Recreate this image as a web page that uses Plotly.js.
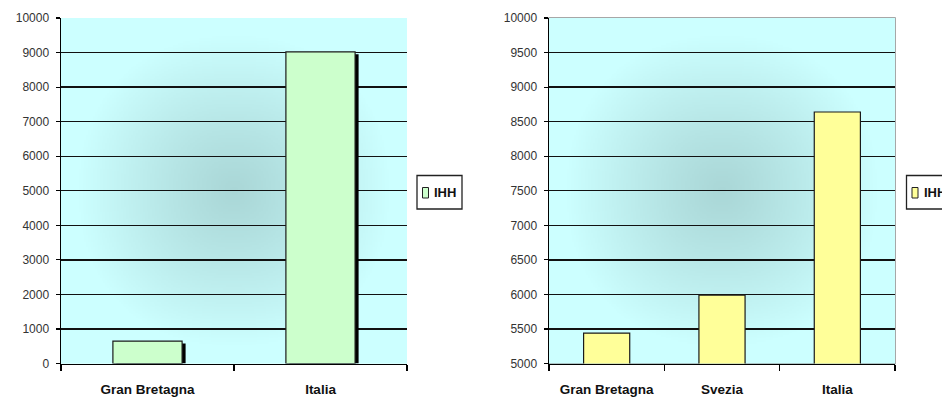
<!DOCTYPE html>
<html>
<head>
<meta charset="utf-8">
<script src="https://cdn.plot.ly/plotly-3.0.1.min.js"></script>
<style>
  html, body { margin: 0; padding: 0; background: #ffffff; }
  #chart { width: 942px; height: 403px; }
</style>
</head>
<body>
<div id="chart"></div>
<script>
// IHH index by country, two panels
const categoriesLeft = ['Gran Bretagna', 'Italia'];
const ihhLeft = [650, 9020];

const categoriesRight = ['Gran Bretagna', 'Svezia', 'Italia'];
const ihhRight = [5440, 5990, 8640];

const seriesName = 'IHH';
const rangeLeft = [0, 10000];
const rangeRight = [5000, 10000];

const W = 942, H = 403;
const FONT = 'Liberation Sans, Arial, sans-serif';
const greenFill = '#CCFFCC';
const yellowFill = '#FFFF99';

// Panel placement (paper fractions)
const domLeftX = [61 / W, 407 / W];
const domRightX = [549 / W, 895 / W];
const domY = [1 - 363.5 / H, 1 - 18 / H];

// Light cyan panel fill, darker toward the middle
function panelShading() {
  const n = 200;
  const c = document.createElement('canvas');
  c.width = n; c.height = n;
  const ctx = c.getContext('2d');
  const img = ctx.createImageData(n, n);
  const inner = [170, 215, 215], outer = [204, 255, 255];
  for (let j = 0; j < n; j++) {
    for (let i = 0; i < n; i++) {
      const dx = Math.abs((i + 0.5) / n * 2 - 1);
      const dy = Math.abs((j + 0.5) / n * 2 - 1);
      const d = Math.pow(Math.pow(dx, 2.2) + Math.pow(dy, 2.2), 1 / 2.2);
      let t = Math.min(1, d / 0.9);
      t = Math.pow(t, 1.15);
      const k = (j * n + i) * 4;
      for (let ch = 0; ch < 3; ch++) img.data[k + ch] = Math.round(inner[ch] + (outer[ch] - inner[ch]) * t);
      img.data[k + 3] = 255;
    }
  }
  ctx.putImageData(img, 0, 0);
  return c.toDataURL('image/png');
}
const shading = panelShading();

// Shadow offsets for the left panel bars, in pixels converted to axis units
const barWidth = 0.4;
const slotPxLeft = (domLeftX[1] - domLeftX[0]) * W / categoriesLeft.length;
const yUnitsPerPx = (rangeLeft[1] - rangeLeft[0]) / ((domY[1] - domY[0]) * H);
const shadowDx = 3.5 / slotPxLeft;
const shadowDy = 2.5 * yUnitsPerPx;

const barLine = { color: '#1a1a1a', width: 1.2 };

const traces = [
  {
    type: 'bar', x: categoriesLeft, y: ihhLeft.map(v => v - shadowDy),
    xaxis: 'x', yaxis: 'y', width: barWidth, offset: -barWidth / 2 + shadowDx,
    marker: { color: '#000000', line: { width: 0 } },
    showlegend: false, hoverinfo: 'skip'
  },
  {
    type: 'bar', name: seriesName, x: categoriesLeft, y: ihhLeft,
    xaxis: 'x', yaxis: 'y', width: barWidth, offset: -barWidth / 2,
    marker: { color: greenFill, line: barLine }, showlegend: false
  },
  {
    type: 'bar', name: seriesName, x: categoriesRight, y: ihhRight,
    xaxis: 'x2', yaxis: 'y2', width: barWidth, offset: -barWidth / 2,
    marker: { color: yellowFill, line: barLine }, showlegend: false
  }
];

const xCommon = {
  type: 'category', showline: true, linecolor: '#000000', linewidth: 1.5,
  ticks: 'outside', tickson: 'boundaries', ticklen: 6, tickwidth: 1.5, tickcolor: '#000000',
  showgrid: false, zeroline: false, fixedrange: true,
  tickfont: { family: FONT, size: 13.5, weight: 700, color: '#111111' },
  ticklabelstandoff: 13
};
const yCommon = {
  showline: true, linecolor: '#000000', linewidth: 1.5,
  ticks: 'outside', ticklen: 4, tickwidth: 1.2, tickcolor: '#000000',
  showgrid: true, gridcolor: '#111111', gridwidth: 1.3, zeroline: false, fixedrange: true,
  tickfont: { family: FONT, size: 12, color: '#333333' },
  tickformat: 'd', ticklabelstandoff: 4
};

const legendBox = (x0, color) => ([
  { type: 'rect', xref: 'paper', yref: 'paper', x0: x0 / W, x1: (x0 + 45) / W,
    y0: 1 - 209 / H, y1: 1 - 175.5 / H, line: { color: '#222222', width: 1.3 }, fillcolor: '#ffffff' },
  { type: 'rect', xref: 'paper', yref: 'paper', x0: (x0 + 5.5) / W, x1: (x0 + 11.5) / W,
    y0: 1 - 198 / H, y1: 1 - 187.5 / H, line: { color: '#222222', width: 1 }, fillcolor: color }
]);

const layout = {
  width: W, height: H,
  margin: { l: 0, r: 0, t: 0, b: 0, autoexpand: false },
  paper_bgcolor: '#ffffff', plot_bgcolor: '#CCFFFF',
  barmode: 'overlay', showlegend: false,
  xaxis: Object.assign({}, xCommon, { domain: domLeftX, anchor: 'y' }),
  yaxis: Object.assign({}, yCommon, { domain: domY, anchor: 'x', range: rangeLeft, dtick: 1000 }),
  xaxis2: Object.assign({}, xCommon, { domain: domRightX, anchor: 'y2' }),
  yaxis2: Object.assign({}, yCommon, { domain: domY, anchor: 'x2', range: rangeRight, dtick: 500 }),
  images: [
    { source: shading, xref: 'x domain', yref: 'y domain', x: 0, y: 1, sizex: 1, sizey: 1,
      xanchor: 'left', yanchor: 'top', sizing: 'stretch', layer: 'below' },
    { source: shading, xref: 'x2 domain', yref: 'y2 domain', x: 0, y: 1, sizex: 1, sizey: 1,
      xanchor: 'left', yanchor: 'top', sizing: 'stretch', layer: 'below' }
  ],
  shapes: [
    { type: 'rect', xref: 'x2 domain', yref: 'y2 domain', x0: 0, x1: 1, y0: 0, y1: 1,
      line: { color: '#8a8a8a', width: 1.5 }, layer: 'below' }
  ].concat(legendBox(417, greenFill), legendBox(906.5, yellowFill)),
  annotations: [
    { xref: 'paper', yref: 'paper', x: 432 / W, y: 1 - 192.5 / H, xanchor: 'left', yanchor: 'middle',
      text: seriesName, showarrow: false, font: { family: FONT, size: 13, weight: 700, color: '#111111' } },
    { xref: 'paper', yref: 'paper', x: 921.5 / W, y: 1 - 192.5 / H, xanchor: 'left', yanchor: 'middle',
      text: seriesName, showarrow: false, font: { family: FONT, size: 13, weight: 700, color: '#111111' } }
  ]
};

Plotly.newPlot('chart', traces, layout, { displayModeBar: false, staticPlot: true });
</script>
</body>
</html>
